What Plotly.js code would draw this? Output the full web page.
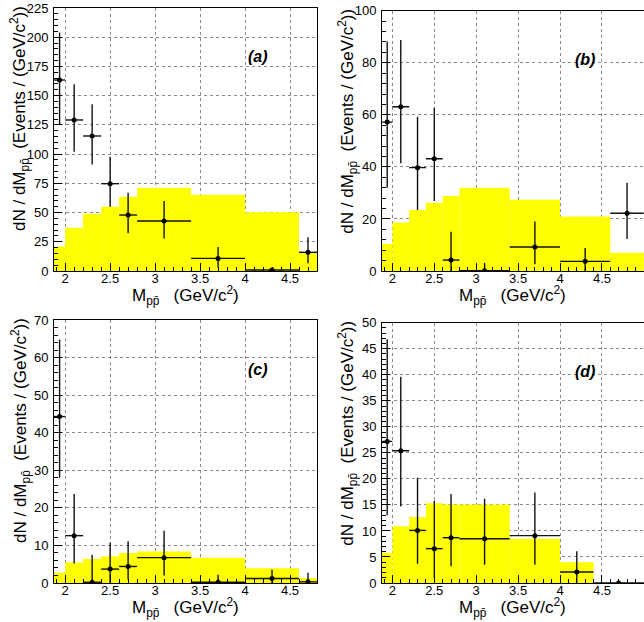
<!DOCTYPE html>
<html>
<head>
<meta charset="utf-8">
<script src="https://cdn.plot.ly/plotly-3.0.1.min.js"></script>
<style>html,body{margin:0;padding:0;background:#fff}#chart{width:644px;height:622px}</style>
</head>
<body>
<div id="chart"></div>
<script>
// ---- Data ----
const edgesA = [1.876, 2.0, 2.2, 2.4, 2.6, 2.8, 3.4, 4.0, 4.6, 4.8];
const mcA    = [21, 37, 49, 55, 63.6, 71.3, 65.3, 50.2, 16.3];
const dataA  = [163.4, 129.2, 115.5, 74.7, 47.9, 42.8, 10.8, 0.8, 16.0];
const errUpA = [40.6, 30.5, 27.1, 23.1, 19.1, 17.1, 9.7, 0.5, 12.8];
const errDnA = [37.7, 27.2, 24.3, 19.7, 15.7, 14.9, 7.7, 0.5, 9.4];

const edgesB = [1.876, 2.0, 2.2, 2.4, 2.6, 2.8, 3.4, 4.0, 4.6, 5.0];
const mcB    = [10.4, 18.6, 23.4, 26.2, 28.8, 32.0, 27.4, 20.9, 7.0];
const dataB  = [57.2, 63.1, 39.7, 43.1, 4.2, 0.1, 9.2, 3.7, 22.2];
const errUpB = [31.0, 25.6, 19.6, 19.6, 10.9, 3.0, 9.8, 5.1, 11.7];
const errDnB = [25.2, 21.7, 16.3, 16.2, 4.2, 0.1, 6.6, 3.7, 9.9];

const edgesC = [1.876, 2.0, 2.2, 2.4, 2.6, 2.8, 3.4, 4.0, 4.6, 4.8];
const mcC    = [2.8, 5.5, 6.4, 7.1, 8.0, 8.4, 6.7, 3.9, 1.3];
const dataC  = [44.3, 12.6, 0.2, 3.7, 4.4, 6.75, 0.2, 1.2, 0.3];
const errUpC = [20.5, 11.1, 7.3, 7.0, 6.7, 7.15, 2.0, 2.3, 2.4];
const errDnC = [16.3, 7.4, 0.2, 3.7, 3.5, 4.75, 0.2, 1.2, 0.3];

const edgesD = [1.876, 2.0, 2.2, 2.4, 2.6, 2.8, 3.4, 4.0, 4.4, 5.0];
const mcD    = [5.8, 10.9, 12.7, 15.3, 15.1, 15.1, 8.5, 4.0, 0];
const dataD  = [27.2, 25.4, 10.1, 6.6, 8.7, 8.5, 9.1, 2.1, 0];
const errUpD = [19.6, 14.2, 10.1, 9.2, 8.4, 7.7, 8.3, 4.0, 0];
const errDnD = [14.2, 10.7, 6.4, 5.6, 5.5, 5.0, 5.6, 2.1, 0];

const panelLabels = ["(a)", "(b)", "(c)", "(d)"];
const yRanges = [[0, 225], [0, 100], [0, 70], [0, 50]];
const yDticks = [25, 20, 10, 5];
const yMinor  = [5, 4, 2, 1];
const xRanges = [[1.876, 4.8], [1.876, 5.002], [1.876, 4.8], [1.876, 5.002]];
const xTitle = "M<sub>pp̄</sub>   (GeV/c<sup>2</sup>)";
const yTitle = "dN / dM<sub>pp̄</sub>  (Events / (GeV/c<sup>2</sup>))";

// ---- Layout geometry (pixels in 644x622) ----
const W = 644, H = 622;
const FONT = "Liberation Sans, Arial, sans-serif";
const boxes = [
  {l: 54, r: 317, t: 8,     b: 271, frameRight: true},
  {l: 382, r: 644, t: 10.7, b: 271, frameRight: false},
  {l: 54, r: 317, t: 320,   b: 583, frameRight: true},
  {l: 382, r: 644, t: 322.7, b: 583, frameRight: false}
];

const panels = [
  {edges: edgesA, mc: mcA, data: dataA, up: errUpA, dn: errDnA},
  {edges: edgesB, mc: mcB, data: dataB, up: errUpB, dn: errDnB},
  {edges: edgesC, mc: mcC, data: dataC, up: errUpC, dn: errDnC},
  {edges: edgesD, mc: mcD, data: dataD, up: errUpD, dn: errDnD}
];

const traces = [];
const layout = {
  width: W, height: H,
  margin: {l: 0, r: 0, t: 0, b: 0},
  paper_bgcolor: "#fff", plot_bgcolor: "#fff",
  showlegend: false,
  font: {family: FONT, size: 13, color: "#000"},
  annotations: []
};

panels.forEach((p, i) => {
  const n = i + 1;
  const xa = n === 1 ? "x" : "x" + n;
  const ya = n === 1 ? "y" : "y" + n;
  const centers = [], widths = [], halfw = [];
  for (let k = 0; k < p.edges.length - 1; k++) {
    centers.push((p.edges[k] + p.edges[k + 1]) / 2);
    widths.push(p.edges[k + 1] - p.edges[k]);
    halfw.push((p.edges[k + 1] - p.edges[k]) / 2);
  }
  traces.push({
    type: "bar", x: centers, y: p.mc, width: widths,
    marker: {color: "#ffff00", line: {width: 0}},
    xaxis: xa, yaxis: ya, hoverinfo: "skip"
  });
  traces.push({
    type: "scatter", mode: "markers", x: centers, y: p.data,
    marker: {color: "#000", size: 5},
    error_y: {type: "data", symmetric: false, array: p.up, arrayminus: p.dn, color: "#111", thickness: 1.4, width: 0},
    error_x: {type: "data", array: halfw, color: "#111", thickness: 1.4, width: 0},
    xaxis: xa, yaxis: ya, cliponaxis: true
  });
  const b = boxes[i];
  const axCommon = {
    showline: true, linecolor: "#000", linewidth: 1,
    ticks: "inside", tickcolor: "#000", ticklen: 8, tickwidth: 1,
    showgrid: true, gridcolor: "#8a8a8a", griddash: "dot", gridwidth: 1,
    zeroline: false, tickfont: {family: FONT, size: 13, color: "#000"},
    fixedrange: true
  };
  layout["xaxis" + (n === 1 ? "" : n)] = Object.assign({}, axCommon, {
    mirror: true,
    domain: [b.l / W, b.r / W], anchor: ya,
    range: xRanges[i], tick0: 0, dtick: 0.5,
    minor: {ticks: "inside", ticklen: 4, dtick: 0.1, tickcolor: "#000", showgrid: false},
    ticklabelstandoff: -5
  });
  layout["yaxis" + (n === 1 ? "" : n)] = Object.assign({}, axCommon, {
    mirror: b.frameRight,
    domain: [1 - b.b / H, 1 - b.t / H], anchor: xa,
    range: yRanges[i], tick0: 0, dtick: yDticks[i],
    minor: {ticks: "inside", ticklen: 4, dtick: yMinor[i], tickcolor: "#000", showgrid: false},
    ticklabelstandoff: 2
  });
  layout.annotations.push({
    xref: "paper", yref: "paper", x: (b.l - 34) / W, y: 1 - (b.t + 111) / H,
    text: yTitle, textangle: -90, showarrow: false,
    xanchor: "center", yanchor: "middle",
    font: {family: FONT, size: 17, color: "#000"}
  });
  const axisMid = b.frameRight ? (b.l + b.r) / 2 : (b.l + 643) / 2;
  layout.annotations.push({
    xref: "paper", yref: "paper", x: axisMid / W, y: 1 - (b.b + 24) / H,
    text: xTitle, showarrow: false, xanchor: "center", yanchor: "middle",
    font: {family: FONT, size: 17, color: "#000"}
  });
  layout.annotations.push({
    xref: "paper", yref: "paper", x: (b.l + 0.775 * (b.r - b.l)) / W, y: 1 - (b.t + 49) / H,
    text: "<b><i>" + panelLabels[i] + "</i></b>", showarrow: false,
    xanchor: "center", yanchor: "middle",
    font: {family: FONT, size: 16, color: "#000"}
  });
});

Plotly.newPlot("chart", traces, layout, {staticPlot: true, displayModeBar: false});
</script>
</body>
</html>
